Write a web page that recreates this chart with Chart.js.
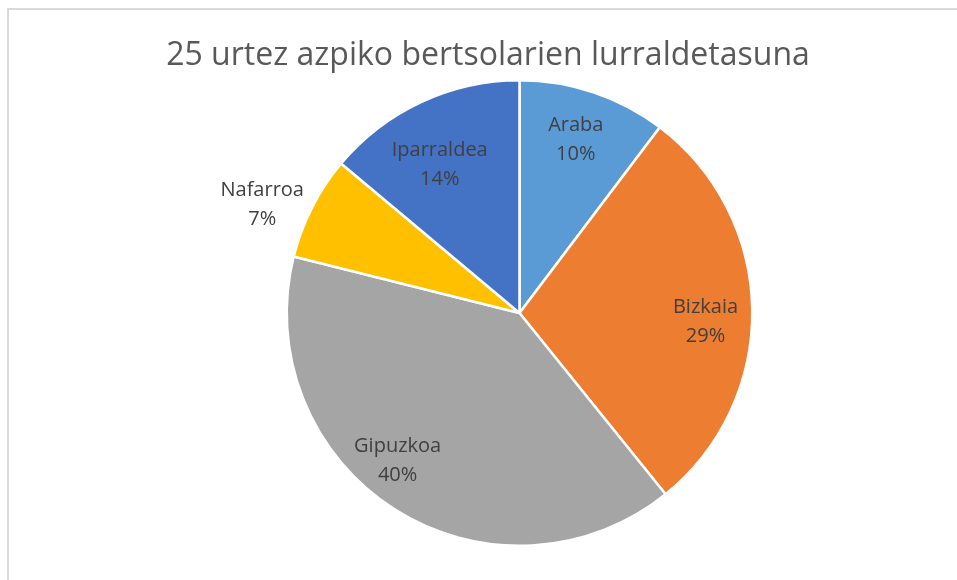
<!DOCTYPE html>
<html>
<head>
<meta charset="utf-8">
<script src="https://cdn.jsdelivr.net/npm/chart.js@4/dist/chart.umd.min.js"></script>
<style>
  html, body { margin: 0; padding: 0; background: #ffffff; overflow: hidden; }
  #wrap { position: relative; width: 957px; height: 580px; overflow: hidden; }
  #frame { position: absolute; left: 7px; top: 8px; width: 1000px; height: 1000px; border: 2px solid #d9d9d9; box-sizing: border-box; }
  canvas { position: absolute; left: 0; top: 0; }
</style>
</head>
<body>
<div id="wrap">
  <div id="frame"></div>
  <canvas id="c" width="957" height="580"></canvas>
</div>
<script>
const TITLE = "25 urtez azpiko bertsolarien lurraldetasuna";
const categories = ["Araba", "Bizkaia", "Gipuzkoa", "Nafarroa", "Iparraldea"];
const shares = [10.3, 28.9, 39.7, 7.2, 13.9];
const colors = ["#5B9BD5", "#ED7D31", "#A5A5A5", "#FFC000", "#4472C4"];

// label placement tweaks (radius as fraction of outer radius, angular shift in degrees)
const labelPlace = [
  { r: 0.785, da: -0.6 },
  { r: 0.80,  da: 3.5 },
  { r: 0.82,  da: 7.1 },
  { r: 1.20,  da: -4.1 },
  { r: 0.725, da: -3.2 }
];

const FONT = "'Open Sans', 'Noto Sans', sans-serif";

const titlePlugin = {
  id: 'customTitle',
  afterDraw(chart) {
    const ctx = chart.ctx;
    ctx.save();
    let size = 30;
    ctx.font = size + "px " + FONT;
    const w = ctx.measureText(TITLE).width;
    size = size * 644 / w;
    ctx.font = size + "px " + FONT;
    ctx.fillStyle = "#595959";
    ctx.textAlign = "center";
    ctx.textBaseline = "alphabetic";
    ctx.fillText(TITLE, 488, 65);
    ctx.restore();
  }
};

const labelPlugin = {
  id: 'sliceLabels',
  afterDatasetsDraw(chart) {
    const ctx = chart.ctx;
    const meta = chart.getDatasetMeta(0);
    const data = chart.data.datasets[0].data;
    const total = data.reduce((a, b) => a + b, 0);
    ctx.save();
    ctx.font = "20px " + FONT;
    ctx.fillStyle = "#404040";
    ctx.textAlign = "center";
    ctx.textBaseline = "middle";
    meta.data.forEach((arc, i) => {
      const p = arc.getProps(['x', 'y', 'startAngle', 'endAngle', 'outerRadius'], true);
      const mid = (p.startAngle + p.endAngle) / 2 + labelPlace[i].da * Math.PI / 180;
      const r = p.outerRadius * labelPlace[i].r;
      const x = p.x + Math.cos(mid) * r;
      const y = p.y + Math.sin(mid) * r;
      const pct = Math.round(data[i] / total * 100) + "%";
      ctx.fillText(chart.data.labels[i], x, y - 14);
      ctx.fillText(pct, x, y + 15);
    });
    ctx.restore();
  }
};

new Chart(document.getElementById('c'), {
  type: 'pie',
  data: {
    labels: categories,
    datasets: [{
      data: shares,
      backgroundColor: colors,
      borderColor: "#ffffff",
      borderWidth: 2.5
    }]
  },
  options: {
    responsive: false,
    animation: false,
    layout: { padding: { top: 79, bottom: 33, left: 285, right: 203 } },
    plugins: {
      legend: { display: false },
      tooltip: { enabled: false },
      title: { display: false }
    }
  },
  plugins: [titlePlugin, labelPlugin]
});
</script>
</body>
</html>
